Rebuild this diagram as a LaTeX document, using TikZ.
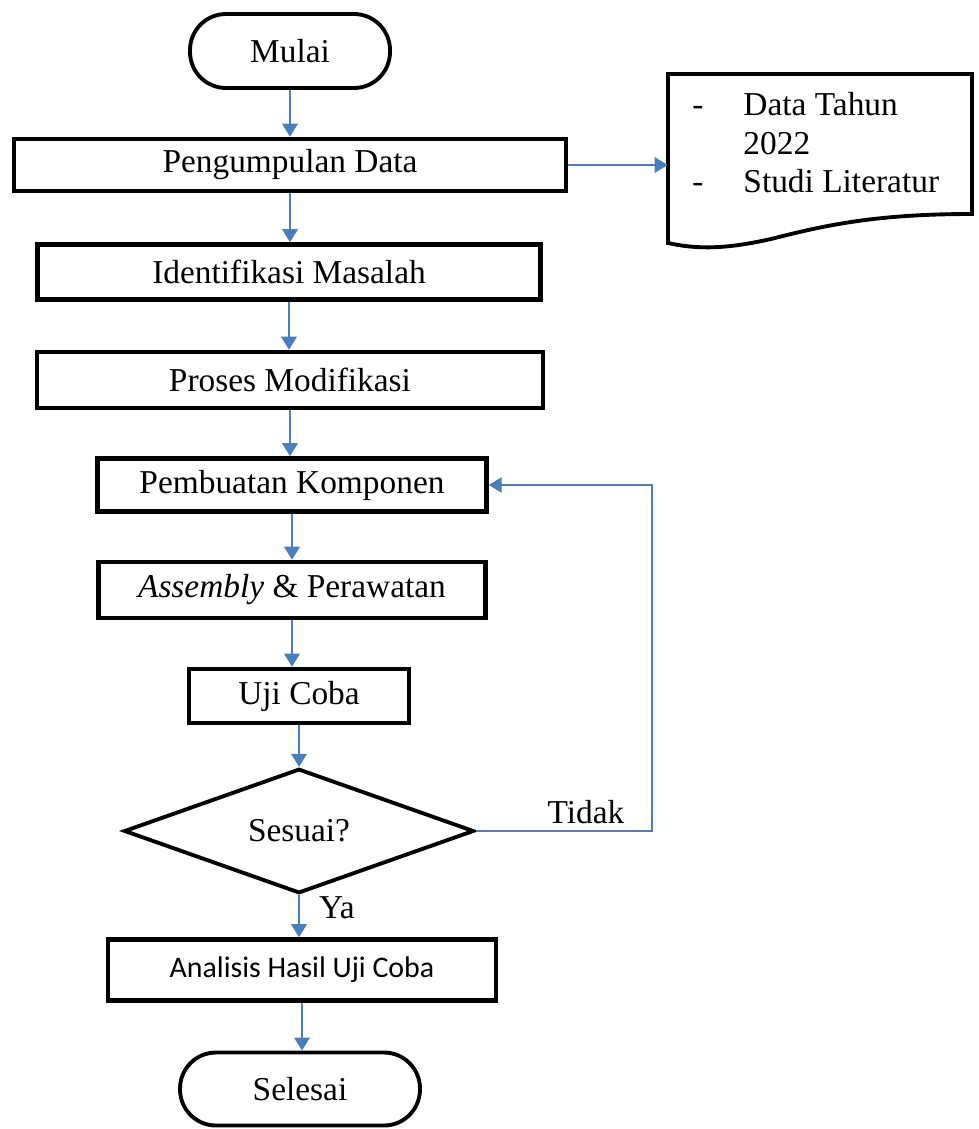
\documentclass[tikz,border=0pt]{standalone}
\usepackage{fontspec}
\setmainfont{Liberation Serif}
\newfontfamily\sansfont{Carlito}
\usetikzlibrary{arrows.meta,positioning,shapes.geometric}
\definecolor{flowblue}{HTML}{4A7EBB}
\tikzset{
  >={Triangle[length=2.6mm,width=3.1mm]},
  font=\fontsize{19}{23}\selectfont,
  procbox/.style={draw,line width=2.6pt,rectangle,inner sep=0pt,align=center},
  terminal/.style={draw,line width=2.2pt,rectangle,rounded corners=0.72cm,
                   inner sep=0pt,align=center},
  decision/.style={draw,line width=2.2pt,diamond,inner sep=0pt,align=center},
  flow/.style={->,line width=1.1pt,draw=flowblue},
  loopline/.style={->,line width=0.85pt,draw=flowblue},
  flowlbl/.style={inner sep=0pt},
}
\begin{document}
\begin{tikzpicture}[x=0.02cm,y=-0.02cm]
  \useasboundingbox (0,0) rectangle (979,1129);

  % main column
  \node[terminal,minimum width=4.0cm,minimum height=1.48cm] (mulai) at (290,51) {Mulai};
  \node[procbox,minimum width=11.04cm,minimum height=1.04cm] (kumpul) at (290,165) {Pengumpulan Data};
  \node[procbox,minimum width=10.06cm,minimum height=1.1cm] (identif) at (289,272) {Identifikasi Masalah};
  \node[procbox,minimum width=10.12cm,minimum height=1.12cm] (proses) at (290,380) {Proses Modifikasi};
  \node[procbox,minimum width=7.78cm,minimum height=1.06cm] (buat) at (292,485) {Pembuatan Komponen};
  \node[procbox,minimum width=7.74cm,minimum height=1.12cm] (rakit) at (292,590) {\textit{Assembly} \& Perawatan};
  \node[procbox,minimum width=4.4cm,minimum height=1.08cm] (uji) at (299,696) {Uji Coba};
  \node[decision,minimum width=7.0cm,minimum height=2.22cm] (sesuai) at (299,831) {Sesuai?};
  \node[procbox,minimum width=7.76cm,minimum height=1.22cm,font=\sansfont\fontsize{17}{20}\selectfont]
    (analisis) at (302,970) {Analisis Hasil Uji Coba};
  \node[terminal,minimum width=4.8cm,minimum height=1.46cm] (selesai) at (300,1089) {Selesai};

  % document shape
  \node[minimum width=6.08cm,minimum height=3.4cm,inner sep=0pt] (docu) at (820,159) {};
  \draw[line width=2.2pt] (668,74) -- (972,74) -- (972,214)
    .. controls (880,214) and (830,224) .. (775,238)
    .. controls (725,250) and (695,249) .. (668,243) -- cycle;
  \node[anchor=north west,inner sep=0pt,align=left] (docutext) at (692,88)
    {\fontsize{19}{22}\selectfont
     \begin{tabular}{@{}l@{\hspace{0.8cm}}l@{}}
       - & Data Tahun\\
         & 2022\\
       - & Studi Literatur
     \end{tabular}};

  % connectors
  \draw[flow] (mulai.south) -- (mulai.south |- kumpul.north);
  \draw[flow] (kumpul.east) -- (kumpul.east -| docu.west);
  \draw[flow] (kumpul.south) -- (kumpul.south |- identif.north);
  \draw[flow] (identif.south) -- (identif.south |- proses.north);
  \draw[flow] (proses.south) -- (proses.south |- buat.north);
  \draw[flow] (buat.south) -- (buat.south |- rakit.north);
  \draw[flow] (rakit.south) -- (rakit.south |- uji.north);
  \draw[flow] (uji.south) -- (uji.south |- sesuai.north);
  \draw[flow] (sesuai.south) -- (sesuai.south |- analisis.north);
  \draw[flow] (analisis.south) -- (analisis.south |- selesai.north);

  \coordinate (balik) at (652,831);
  \draw[loopline] (sesuai.east) -- (balik) |- (buat.east);

  \node[flowlbl] (tidak) at (586,812) {Tidak};
  \node[flowlbl] (ya) at (337,908) {Ya};
\end{tikzpicture}
\end{document}
